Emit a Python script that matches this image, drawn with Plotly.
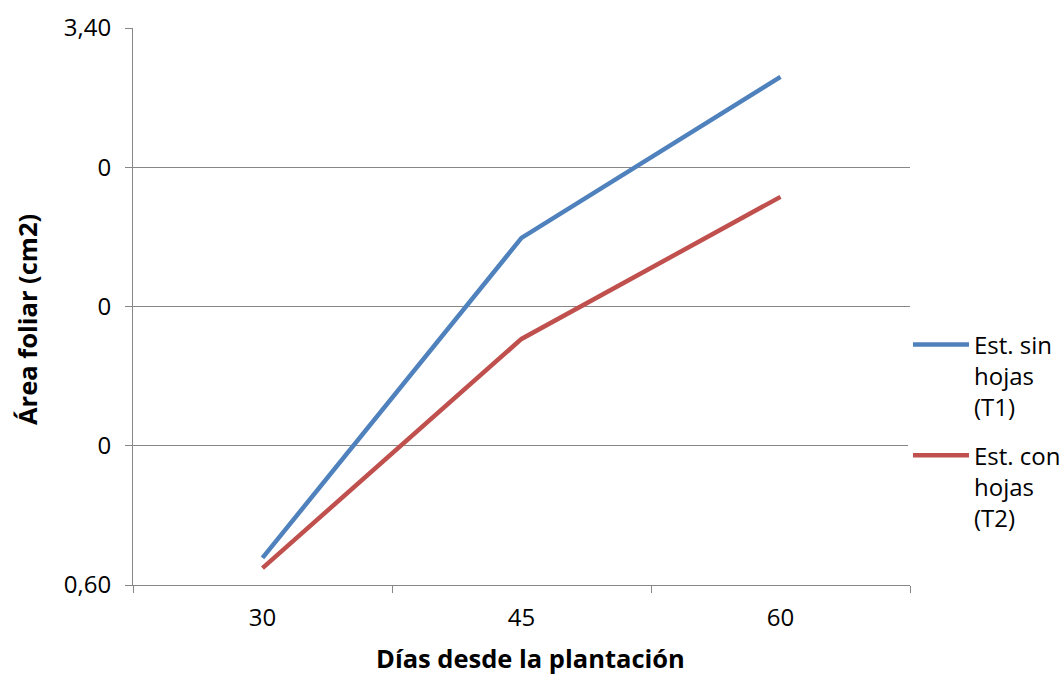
import plotly.graph_objects as go

dias = ["30", "45", "60"]
t1_sin_hojas = [0.736, 2.345, 3.154]
t2_con_hojas = [0.685, 1.837, 2.551]
y_tickvals = [0.6, 1.3, 2.0, 2.7, 3.4]
y_ticktext = ["0,60", "0", "0", "0", "3,40"]
x_title = "Días desde la plantación"
y_title = "Área foliar (cm2)"

fig = go.Figure()
fig.add_trace(go.Scatter(x=dias, y=t1_sin_hojas, mode="lines",
                         name="Est. sin<br>hojas<br>(T1)", legendgroup="t1",
                         line=dict(color="#4F81BD", width=4.5)))
fig.add_trace(go.Scatter(x=dias, y=t2_con_hojas, mode="lines",
                         name="Est. con<br>hojas<br>(T2)", legendgroup="t2",
                         line=dict(color="#C0504D", width=4.5)))

grid = "#878787"
fig.update_layout(
    width=1061, height=674,
    margin=dict(l=133, r=151, t=28, b=89, autoexpand=False),
    paper_bgcolor="white", plot_bgcolor="white",
    font=dict(family="Open Sans", size=24, color="black"),
    showlegend=True,
    legend=dict(x=0.9974, xanchor="left", y=0.2756, yanchor="middle",
                valign="top", font=dict(size=24), tracegroupgap=14,
                itemwidth=56),
    xaxis=dict(type="category", range=[-0.5, 2.5], tickson="boundaries",
               ticks="outside", ticklen=7, tickcolor=grid, showline=True,
               linecolor=grid, linewidth=1, showgrid=False, mirror=False,
               ticklabelstandoff=11, tickfont=dict(size=24)),
    yaxis=dict(range=[0.6, 3.4], tickvals=y_tickvals, ticktext=y_ticktext,
               ticks="outside", ticklen=7, tickcolor=grid, showline=True,
               linecolor=grid, linewidth=1, showgrid=True, gridcolor=grid,
               gridwidth=1, zeroline=False, ticklabelstandoff=9,
               tickfont=dict(size=24)),
    annotations=[
        dict(text="<b>" + x_title + "</b>", xref="paper", yref="paper",
             x=0.511, y=-0.131, xanchor="center", yanchor="middle",
             showarrow=False, font=dict(size=25.5)),
        dict(text="<b>" + y_title + "</b>", xref="paper", yref="paper",
             x=-0.1364, y=0.4758, xanchor="center", yanchor="middle",
             textangle=-90, showarrow=False, font=dict(size=25.5)),
    ],
)
fig.write_html("out.html", config={"displayModeBar": False},
               post_script="document.body.style.margin='0';")
